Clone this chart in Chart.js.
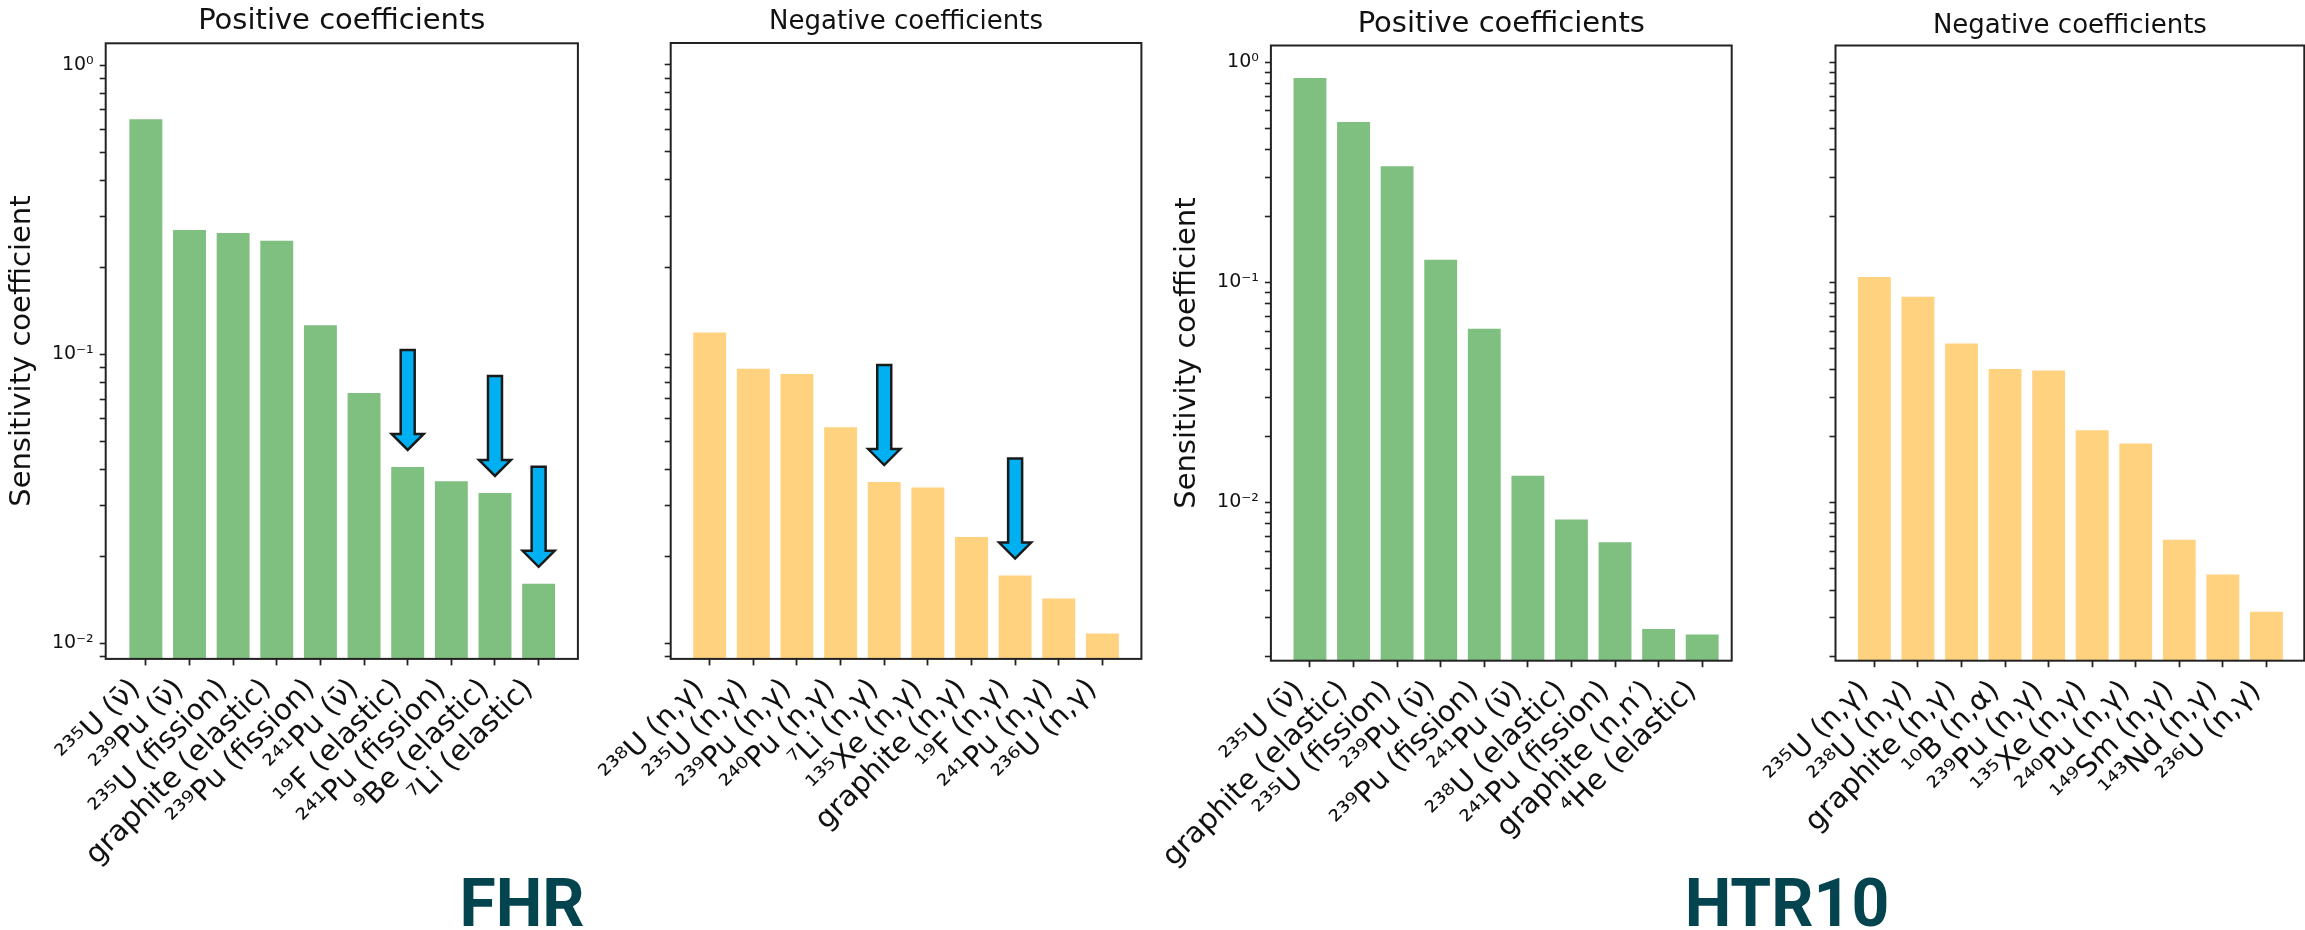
<!DOCTYPE html>
<html>
<head>
<meta charset="utf-8">
<script src="https://cdn.jsdelivr.net/npm/chart.js@4.4.0/dist/chart.umd.min.js"></script>
<style>
  body { margin:0; background:#fff; width:2305px; height:930px; overflow:hidden; position:relative; }
  canvas { position:absolute; left:0; top:0; }
  .tag { position:absolute; width:300px; text-align:center; font-family:Roboto; font-weight:700;
         font-size:66px; line-height:66px; color:#03444e; }
</style>
</head>
<body>
<canvas id="fhrPos" width="2305" height="930"></canvas>
<canvas id="fhrNeg" width="2305" height="930"></canvas>
<canvas id="htrPos" width="2305" height="930"></canvas>
<canvas id="htrNeg" width="2305" height="930"></canvas>
<div class="tag" style="left:372px; top:871px">FHR</div>
<div class="tag" style="left:1637px; top:871px">HTR10</div>
<script>
// ---- data ----
var fhrPosLabels = ["²³⁵U (ν̄)", "²³⁹Pu (ν̄)", "²³⁵U (fission)", "graphite (elastic)", "²³⁹Pu (fission)",
                    "²⁴¹Pu (ν̄)", "¹⁹F (elastic)", "²⁴¹Pu (fission)", "⁹Be (elastic)", "⁷Li (elastic)"];
var fhrPosValues = [0.655, 0.271, 0.265, 0.249, 0.127, 0.074, 0.0411, 0.0367, 0.0334, 0.0162];

var fhrNegLabels = ["²³⁸U (n,γ)", "²³⁵U (n,γ)", "²³⁹Pu (n,γ)", "²⁴⁰Pu (n,γ)", "⁷Li (n,γ)",
                    "¹³⁵Xe (n,γ)", "graphite (n,γ)", "¹⁹F (n,γ)", "²⁴¹Pu (n,γ)", "²³⁶U (n,γ)"];
var fhrNegValues = [0.1197, 0.0897, 0.0860, 0.0563, 0.0364, 0.0349, 0.0235, 0.0173, 0.0144, 0.0109];

var htrPosLabels = ["²³⁵U (ν̄)", "graphite (elastic)", "²³⁵U (fission)", "²³⁹Pu (ν̄)", "²³⁹Pu (fission)",
                    "²⁴¹Pu (ν̄)", "²³⁸U (elastic)", "²⁴¹Pu (fission)", "graphite (n,n′)", "⁴He (elastic)"];
var htrPosValues = [0.857, 0.540, 0.340, 0.128, 0.0621, 0.01336, 0.00845, 0.00666, 0.00269, 0.00254];

var htrNegLabels = ["²³⁵U (n,γ)", "²³⁸U (n,γ)", "graphite (n,γ)", "¹⁰B (n,α)", "²³⁹Pu (n,γ)",
                    "¹³⁵Xe (n,γ)", "²⁴⁰Pu (n,γ)", "¹⁴⁹Sm (n,γ)", "¹⁴³Nd (n,γ)", "²³⁶U (n,γ)"];
var htrNegValues = [0.1067, 0.0868, 0.0532, 0.0408, 0.0402, 0.0215, 0.0187, 0.00684, 0.00475, 0.00322];

// bars marked with a blue arrow
var fhrPosArrows = [6, 8, 9];
var fhrNegArrows = [4, 7];

var yMajorTicks = [0.01, 0.1, 1];
var yMajorLabels = ["10⁻²", "10⁻¹", "10⁰"];

// ---- look ----
var FONT = "DejaVu Sans";
var W = 2305, H = 930, XH = 250;
var GREEN = "rgba(0,128,0,0.5)";
var ORANGE = "rgba(255,165,0,0.5)";
var ARROW = { len: 100, gap: 16, head: 16, headHalf: 16, shaftHalf: 7 };

var panels = [
  { id: "fhrPos", labels: fhrPosLabels, values: fhrPosValues, color: GREEN, arrows: fhrPosArrows,
    box: [105.7, 43.3, 577.9, 658.9], xr: [-0.92, 9.9], yr: [0.00884, 1.19],
    title: "Positive coefficients", tSize: 29, tTop: 3.9, padL: 4.6, ylabel: true },
  { id: "fhrNeg", labels: fhrNegLabels, values: fhrNegValues, color: ORANGE, arrows: fhrNegArrows,
    box: [670.7, 43.0, 1141.4, 658.9], xr: [-0.894, 9.894], yr: [0.00884, 1.19],
    title: "Negative coefficients", tSize: 26, tTop: 6.7, padL: 630, ylabel: false },
  { id: "htrPos", labels: htrPosLabels, values: htrPosValues, color: GREEN, arrows: [],
    box: [1270.9, 45.5, 1731.7, 660.7], xr: [-0.896, 9.677], yr: [0.00191, 1.19],
    title: "Positive coefficients", tSize: 29, tTop: 7.4, padL: 1169.9, ylabel: true },
  { id: "htrNeg", labels: htrNegLabels, values: htrNegValues, color: ORANGE, arrows: [],
    box: [1835.5, 45.5, 2304.3, 660.7], xr: [-0.893, 9.87], yr: [0.00191, 1.19],
    title: "Negative coefficients", tSize: 26, tTop: 10.2, padL: 1795, ylabel: false }
];

// log ticks: majors plus 2..9 minors inside the range
function logTicks(lo, hi) {
  var out = [];
  for (var e = -3; e <= 0; e++) {
    for (var m = 1; m <= 9; m++) {
      var v = Number((m * Math.pow(10, e)).toPrecision(3));
      if (v >= lo && v <= hi) out.push(v);
    }
  }
  return out;
}

var framePlugin = {
  id: "frame",
  afterDatasetsDraw: function(chart) {
    var a = chart.chartArea, c = chart.ctx;
    c.save();
    c.strokeStyle = "#222";
    c.lineWidth = 2;
    c.strokeRect(a.left, a.top, a.right - a.left, a.bottom - a.top);
    c.restore();
  }
};

function arrowPlugin(idx) {
  return {
    id: "arrows",
    afterDatasetsDraw: function(chart) {
      var xs = chart.scales.x, ys = chart.scales.y, c = chart.ctx;
      var data = chart.data.datasets[0].data;
      idx.forEach(function(i) {
        var x = xs.getPixelForValue(i);
        var tip = ys.getPixelForValue(data[i].y) - ARROW.gap;
        var top = tip - ARROW.len, neck = tip - ARROW.head;
        c.save();
        c.beginPath();
        c.moveTo(x - ARROW.shaftHalf, top);
        c.lineTo(x + ARROW.shaftHalf, top);
        c.lineTo(x + ARROW.shaftHalf, neck);
        c.lineTo(x + ARROW.headHalf, neck);
        c.lineTo(x, tip);
        c.lineTo(x - ARROW.headHalf, neck);
        c.lineTo(x - ARROW.shaftHalf, neck);
        c.closePath();
        c.fillStyle = "#00b0f0";
        c.fill();
        c.lineWidth = 2.5;
        c.strokeStyle = "#1a1a1a";
        c.stroke();
        c.restore();
      });
    }
  };
}

function makeChart(p) {
  var yTicks = logTicks(p.yr[0], p.yr[1]);
  return new Chart(document.getElementById(p.id), {
    type: "bar",
    data: {
      datasets: [{
        data: p.values.map(function(v, i) { return { x: i, y: v }; }),
        backgroundColor: p.color,
        borderColor: "rgba(255,255,255,0.5)",
        borderWidth: 1,
        categoryPercentage: 0.8,
        barPercentage: 1
      }]
    },
    options: {
      responsive: false,
      animation: false,
      devicePixelRatio: 1,
      layout: { padding: { left: p.padL, top: 0, right: W - p.box[2], bottom: H - p.box[3] - XH } },
      plugins: {
        legend: { display: false },
        tooltip: { enabled: false },
        title: {
          display: true, text: p.title, fullSize: false, color: "#111",
          font: { family: FONT, size: p.tSize, weight: "normal", lineHeight: 1.2 },
          padding: { top: p.tTop, bottom: p.box[1] - p.tTop - p.tSize * 1.2 }
        }
      },
      scales: {
        x: {
          type: "linear", min: p.xr[0], max: p.xr[1], offset: false,
          border: { display: false },
          grid: { display: true, offset: false, drawOnChartArea: false, drawTicks: true,
                  tickLength: 6.5, tickWidth: 1.8, tickColor: "#222" },
          afterBuildTicks: function(s) { s.ticks = p.labels.map(function(l, i) { return { value: i }; }); },
          afterFit: function(s) { s.height = XH; },
          ticks: {
            autoSkip: false, minRotation: 45, maxRotation: 45, padding: 7, labelOffset: -10,
            color: "#111", font: { family: FONT, size: 29 },
            callback: function(v) { return p.labels[v]; }
          }
        },
        y: {
          type: "logarithmic", min: p.yr[0], max: p.yr[1], position: "left",
          border: { display: false },
          grid: { display: true, drawOnChartArea: false, drawTicks: true,
                  tickLength: 6, tickWidth: 1.6, tickColor: "#222" },
          afterBuildTicks: function(s) { s.ticks = yTicks.map(function(v) { return { value: v }; }); },
          afterFit: function(s) { s.width = p.box[0] - p.padL; },
          ticks: {
            autoSkip: false, padding: 6, color: "#111", font: { family: FONT, size: 19 },
            callback: function(v) {
              if (!p.ylabel) return "";
              var k = yMajorTicks.indexOf(v);
              return k >= 0 ? yMajorLabels[k] : "";
            }
          },
          title: {
            display: p.ylabel, text: "Sensitivity coefficient", color: "#111",
            font: { family: FONT, size: 29, lineHeight: 1.2 }, padding: { top: 0, bottom: 0 }
          }
        }
      }
    },
    plugins: [framePlugin, arrowPlugin(p.arrows)]
  });
}

panels.forEach(makeChart);
</script>
</body>
</html>
